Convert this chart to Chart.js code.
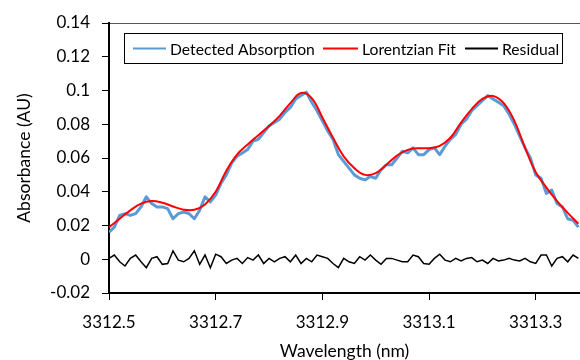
<!DOCTYPE html>
<html>
<head>
<meta charset="utf-8">
<script src="https://cdn.jsdelivr.net/npm/chart.js@4.4.0/dist/chart.umd.min.js"></script>
<style>
  html, body { margin: 0; padding: 0; background: #fff; }
</style>
</head>
<body>
<canvas id="chart" width="580" height="360"></canvas>
<script>
const wavelengths = [
  3312.50, 3312.51, 3312.52, 3312.53, 3312.54, 3312.55, 3312.56, 3312.57, 3312.58, 3312.59,
  3312.60, 3312.61, 3312.62, 3312.63, 3312.64, 3312.65, 3312.66, 3312.67, 3312.68, 3312.69,
  3312.70, 3312.71, 3312.72, 3312.73, 3312.74, 3312.75, 3312.76, 3312.77, 3312.78, 3312.79,
  3312.80, 3312.81, 3312.82, 3312.83, 3312.84, 3312.85, 3312.86, 3312.87, 3312.88, 3312.89,
  3312.90, 3312.91, 3312.92, 3312.93, 3312.94, 3312.95, 3312.96, 3312.97, 3312.98, 3312.99,
  3313.00, 3313.01, 3313.02, 3313.03, 3313.04, 3313.05, 3313.06, 3313.07, 3313.08, 3313.09,
  3313.10, 3313.11, 3313.12, 3313.13, 3313.14, 3313.15, 3313.16, 3313.17, 3313.18, 3313.19,
  3313.20, 3313.21, 3313.22, 3313.23, 3313.24, 3313.25, 3313.26, 3313.27, 3313.28, 3313.29,
  3313.30, 3313.31, 3313.32, 3313.33, 3313.34, 3313.35, 3313.36, 3313.37, 3313.38
];
const detected = [
  0.016, 0.019, 0.026, 0.027, 0.026, 0.027, 0.031, 0.037, 0.033, 0.031,
  0.031, 0.030, 0.024, 0.027, 0.028, 0.027, 0.024, 0.029, 0.037, 0.034,
  0.038, 0.045, 0.050, 0.057, 0.061, 0.063, 0.065, 0.070, 0.071, 0.075,
  0.079, 0.081, 0.083, 0.087, 0.090, 0.095, 0.097, 0.099, 0.093, 0.088,
  0.082, 0.076, 0.071, 0.062, 0.058, 0.054, 0.050, 0.048, 0.047, 0.049,
  0.048, 0.053, 0.056, 0.056, 0.060, 0.064, 0.063, 0.066, 0.062, 0.062,
  0.065, 0.066, 0.062, 0.067, 0.071, 0.074, 0.080, 0.083, 0.088, 0.091,
  0.094, 0.097, 0.095, 0.093, 0.091, 0.086, 0.080, 0.073, 0.066, 0.060,
  0.050, 0.048, 0.039, 0.041, 0.033, 0.031, 0.024, 0.023, 0.019
];
const residual = [
  0.0005, 0.0025, -0.0015, -0.004, 0.0005, 0.0025, -0.0015, -0.005, 0.0005, 0.0015,
  -0.003, -0.0025, 0.005, -0.0005, -0.0015, 0.0005, 0.005, -0.003, 0.0025, -0.005,
  0.003, 0.0015, -0.0025, -0.0005, 0.0005, -0.0025, 0.001, -0.0005, 0.0025, -0.0025,
  0.0005, -0.0015, 0.0005, 0.0015, -0.0015, 0.0025, -0.0025, 0.0005, -0.0015, 0.0025,
  0.0015, 0.0005, -0.0025, -0.005, 0.0005, -0.0015, -0.0025, 0.0015, -0.0005, 0.0025,
  -0.0005, -0.003, 0.0005, 0.0005, -0.0005, -0.0015, -0.0015, 0.0025, 0.0015, -0.0025,
  -0.003, 0.0005, 0.003, -0.0005, -0.0015, 0.0005, -0.001, 0.0005, 0.001, -0.0015,
  -0.0005, -0.0025, 0.0005, -0.001, -0.0005, 0.0005, -0.0005, -0.001, 0.0005, -0.0015,
  -0.0025, 0.0025, 0.0025, -0.004, 0.0005, 0.0015, -0.0015, 0.0025, 0.0005
];

// Fitted curve, sampled coarser
const fitWavelengths = [
  3312.50, 3312.52, 3312.54, 3312.56, 3312.58, 3312.60, 3312.62, 3312.64, 3312.66, 3312.68,
  3312.70, 3312.72, 3312.74, 3312.76, 3312.78, 3312.80, 3312.82, 3312.84, 3312.86, 3312.88,
  3312.90, 3312.92, 3312.94, 3312.96, 3312.98, 3313.00, 3313.02, 3313.04, 3313.06, 3313.08,
  3313.10, 3313.12, 3313.14, 3313.16, 3313.18, 3313.20, 3313.22, 3313.24, 3313.26, 3313.28,
  3313.30, 3313.32, 3313.34, 3313.36, 3313.38
];
const lorentzFit = [
  0.019, 0.024, 0.029, 0.033, 0.0345, 0.0335, 0.0313, 0.0294, 0.0293, 0.0325,
  0.040, 0.0525, 0.062, 0.068, 0.0735, 0.079, 0.085, 0.0925, 0.0985, 0.0955,
  0.084, 0.072, 0.061, 0.054, 0.050, 0.051, 0.056, 0.0615, 0.0648, 0.0658,
  0.0658, 0.0672, 0.072, 0.081, 0.089, 0.095, 0.0968, 0.0925, 0.082, 0.066,
  0.0515, 0.0425, 0.0345, 0.0275, 0.021
];

const xTicks = [3312.5, 3312.7, 3312.9, 3313.1, 3313.3];
const seriesLabels = ['Detected Absorption', 'Lorentzian Fit', 'Residual'];

const FONT = 'Lato, "Open Sans", sans-serif';

function toPoints(xs, ys) {
    return xs.map((x, i) => ({ x: x, y: ys[i] }));
}

// legend box drawn inside the plot, like the original
const insideLegend = {
    id: 'insideLegend',
    afterDraw(chart) {
        const ctx = chart.ctx;
        const slots = [
            { x0: 133, x1: 166, tx: 170 },
            { x0: 323, x1: 358, tx: 362 },
            { x0: 465, x1: 498, tx: 502 }
        ];
        const cy = 48.5;
        ctx.save();
        ctx.fillStyle = '#fff';
        ctx.fillRect(124.5, 33.5, 438, 30);
        ctx.strokeStyle = '#000';
        ctx.lineWidth = 1;
        ctx.strokeRect(124.5, 33.5, 438, 30);
        ctx.font = '15.7px ' + FONT;
        ctx.textBaseline = 'middle';
        chart.data.datasets.forEach((ds, i) => {
            const s = slots[i];
            ctx.strokeStyle = ds.borderColor;
            ctx.lineWidth = 2;
            ctx.beginPath();
            ctx.moveTo(s.x0, cy);
            ctx.lineTo(s.x1, cy);
            ctx.stroke();
            ctx.fillStyle = '#000';
            ctx.fillText(ds.label, s.tx, cy + 1);
        });
        ctx.restore();
    }
};

const chart1 = document.getElementById('chart');

new Chart(chart1, {
    type: 'scatter',
    data: {
        datasets: [
            {
                label: seriesLabels[0],
                data: toPoints(wavelengths, detected),
                showLine: true,
                borderColor: '#5B9BD5',
                borderWidth: 3,
                pointRadius: 0,
                borderJoinStyle: 'round',
                order: 3
            },
            {
                label: seriesLabels[1],
                data: toPoints(fitWavelengths, lorentzFit),
                showLine: true,
                borderColor: '#FF0000',
                borderWidth: 2,
                pointRadius: 0,
                tension: 0.4,
                order: 1
            },
            {
                label: seriesLabels[2],
                data: toPoints(wavelengths, residual),
                showLine: true,
                borderColor: '#000000',
                borderWidth: 1.5,
                pointRadius: 0,
                order: 2
            }
        ]
    },
    options: {
        responsive: false,
        animation: false,
        layout: { padding: { top: 23, right: 0, left: 0, bottom: 0 } },
        plugins: {
            legend: { display: false },
            tooltip: { enabled: false }
        },
        scales: {
            x: {
                type: 'linear',
                min: 3312.5,
                max: 3313.383,
                afterBuildTicks: scale => {
                    scale.ticks = xTicks.map(v => ({ value: v }));
                },
                afterFit: scale => { scale.height = 67; },
                ticks: {
                    color: '#000',
                    font: { family: FONT, size: 17 },
                    padding: 12,
                    maxRotation: 0,
                    callback: v => v.toFixed(1)
                },
                grid: { drawOnChartArea: false, tickLength: 7, tickColor: '#000' },
                border: { color: '#000', width: 2 },
                title: {
                    display: true,
                    text: 'Wavelength (nm)',
                    color: '#000',
                    font: { family: FONT, size: 17.5 },
                    padding: { top: 0, bottom: -2 }
                }
            },
            y: {
                min: -0.02,
                max: 0.14,
                afterFit: scale => { scale.width = 109; },
                ticks: {
                    stepSize: 0.02,
                    color: '#000',
                    font: { family: FONT, size: 17 },
                    padding: 12,
                    callback: v => String(+v.toFixed(2))
                },
                grid: {
                    tickLength: 7,
                    tickColor: '#000',
                    color: c => (c.tick && Math.abs(c.tick.value - 0.14) < 1e-9) ? '#555' : 'rgba(0,0,0,0)'
                },
                border: { color: '#000', width: 2 },
                title: {
                    display: true,
                    text: 'Absorbance (AU)',
                    color: '#000',
                    font: { family: FONT, size: 17.5 },
                    padding: { top: 14, bottom: 0 }
                }
            }
        }
    },
    plugins: [insideLegend]
});
</script>
</body>
</html>
